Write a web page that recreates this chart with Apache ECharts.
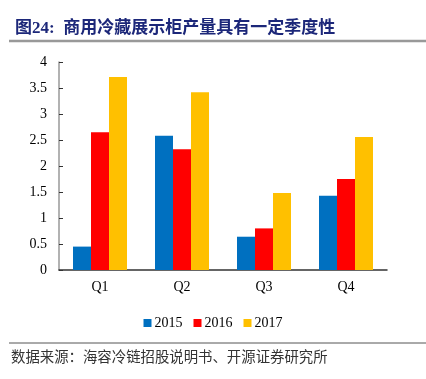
<!DOCTYPE html>
<html>
<head>
<meta charset="utf-8">
<script src="https://cdn.jsdelivr.net/npm/echarts@6/dist/echarts.min.js"></script>
<style>
	html, body { margin: 0; padding: 0; background: #fff; }
	#main { width: 426px; height: 379px; }
</style>
</head>
<body>
<div id="main"></div>
<script>
// 季度
var quarters = ['Q1', 'Q2', 'Q3', 'Q4']
// 各年产量
var y2015 = [0.45, 2.58, 0.64, 1.43]
var y2016 = [2.65, 2.32, 0.80, 1.75]
var y2017 = [3.71, 3.42, 1.48, 2.56]
var years = ['2015', '2016', '2017']

var serif = "'Liberation Serif', 'Times New Roman', serif"
var myChart = echarts.init(document.getElementById('main'))

var option = {
	animation: false,
	title: {
		text: '图24:  商用冷藏展示柜产量具有一定季度性',
		left: 10,
		top: 15,
		textStyle: {
			color: '#1c2779',
			fontSize: 17,
			fontWeight: 'bold',
			fontFamily: "'Liberation Serif', 'Noto Sans CJK SC', serif"
		}
	},
	grid: {
		left: 59,
		right: 39,
		top: 62,
		bottom: 109
	},
	legend: {
		data: years,
		left: 'center',
		top: 311,
		icon: 'rect',
		itemWidth: 8,
		itemHeight: 8,
		itemGap: 11,
		textStyle: {
			color: '#000',
			fontSize: 14,
			fontFamily: serif,
			padding: [0, 0, 0, -2]
		}
	},
	xAxis: {
		type: 'category',
		data: quarters,
		axisLine: { lineStyle: { color: '#333', width: 1.5 } },
		axisTick: { inside: true, length: 4, lineStyle: { color: '#333' } },
		axisLabel: {
			color: '#000',
			fontSize: 14,
			fontFamily: serif,
			margin: 10
		}
	},
	yAxis: {
		type: 'value',
		min: 0,
		max: 4,
		interval: 0.5,
		splitLine: { show: false },
		axisLine: { show: true, lineStyle: { color: '#999', width: 1.5 } },
		axisTick: { show: true, inside: true, length: 4, lineStyle: { color: '#333' } },
		axisLabel: {
			color: '#000',
			fontSize: 14,
			fontFamily: serif,
			margin: 12
		}
	},
	graphic: [
		{
			type: 'line',
			shape: { x1: 9, y1: 41, x2: 426, y2: 41 },
			style: { stroke: '#999', lineWidth: 2.5 },
			silent: true
		},
		{
			type: 'line',
			shape: { x1: 9, y1: 343, x2: 426, y2: 343 },
			style: { stroke: '#555', lineWidth: 1 },
			silent: true
		},
		{
			type: 'text',
			left: 11,
			top: 349,
			style: {
				text: '数据来源：海容冷链招股说明书、开源证券研究所',
				fill: '#333',
				fontSize: 14.4,
				fontFamily: "'Noto Sans CJK SC', sans-serif"
			},
			silent: true
		}
	],
	series: [
		{
			name: '2015',
			type: 'bar',
			barWidth: 18,
			barGap: 0,
			itemStyle: { color: '#0070C0' },
			data: y2015
		},
		{
			name: '2016',
			type: 'bar',
			barWidth: 18,
			barGap: 0,
			itemStyle: { color: '#FF0000' },
			data: y2016
		},
		{
			name: '2017',
			type: 'bar',
			barWidth: 18,
			barGap: 0,
			itemStyle: { color: '#FFC000' },
			data: y2017
		}
	]
}

option && myChart.setOption(option)
</script>
</body>
</html>
